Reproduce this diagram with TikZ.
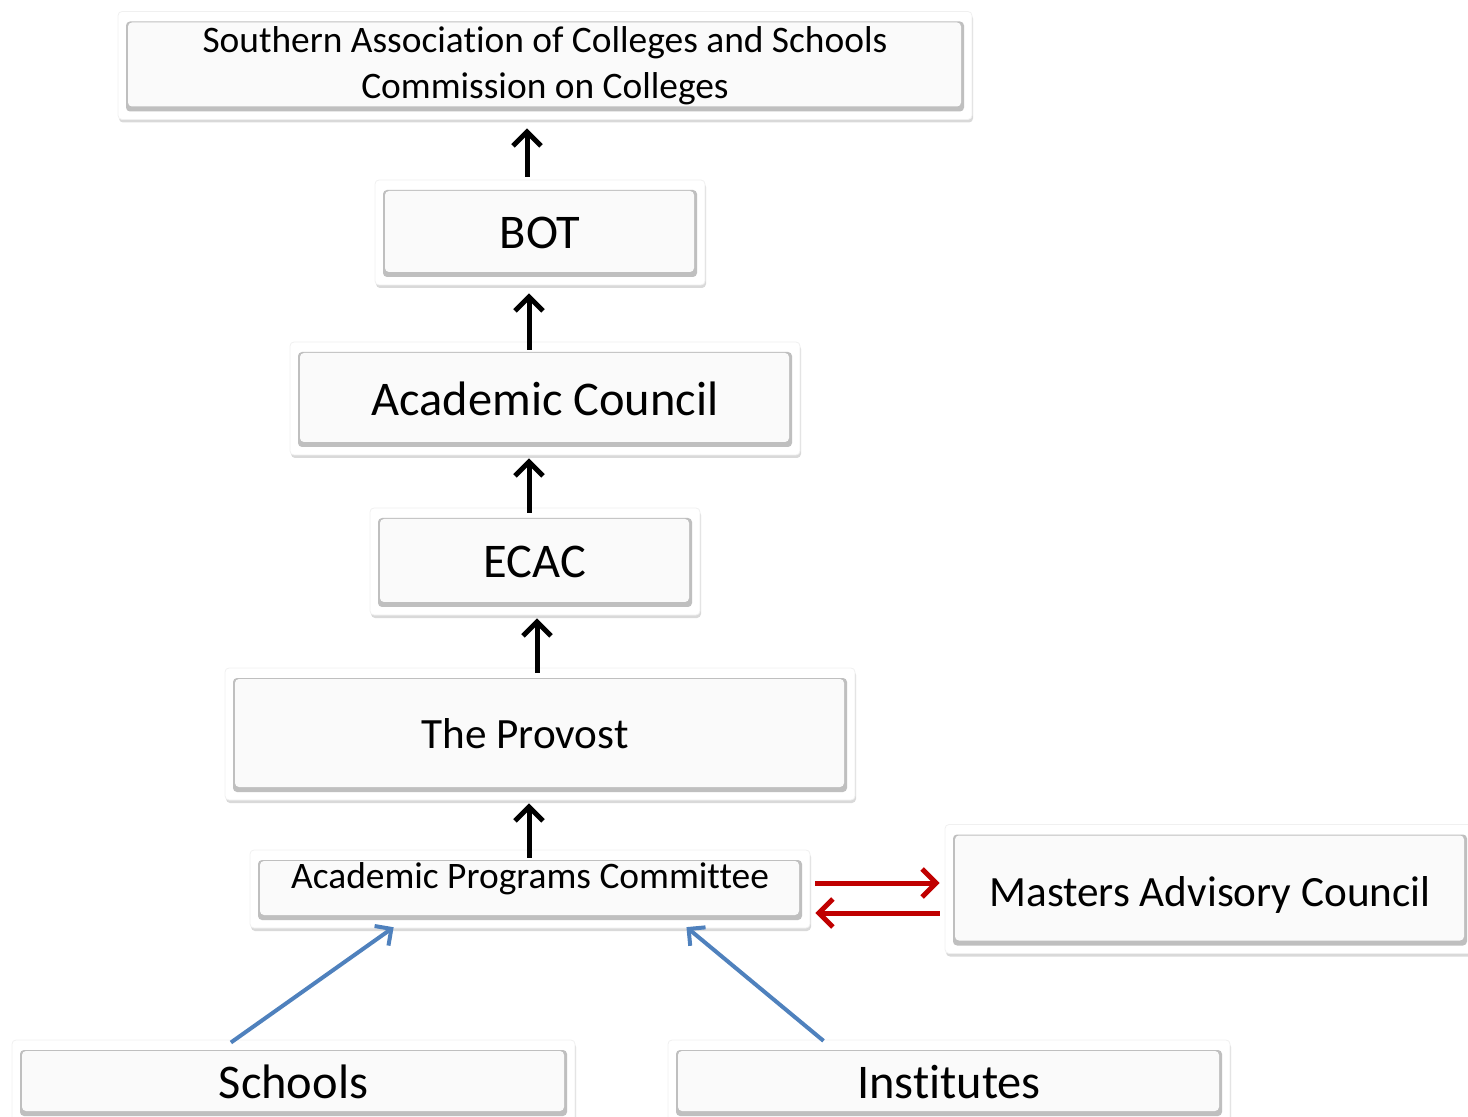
\documentclass[tikz,border=0pt]{standalone}
\usepackage{fontspec}
\setmainfont{Carlito}[Ligatures=NoCommon]
\usepackage{tikz}
\usetikzlibrary{arrows.meta}
\usetikzlibrary{shadows}

\definecolor{arrowred}{RGB}{192,0,0}
\definecolor{arrowblue}{RGB}{79,129,189}

\begin{document}
\begin{tikzpicture}[x=0.5pt,y=-0.5pt]
    \tikzstyle{box}=[rectangle,rounded corners=2pt,draw=gray!12,fill=white,inner sep=0pt,
        drop shadow={shadow xshift=0.5pt,shadow yshift=-1.5pt,opacity=0.3,fill=gray},
        path picture={
            \fill[gray!50] ([shift={(4pt,4pt)}]path picture bounding box.south west)
                rectangle ([shift={(-4pt,-5pt)}]path picture bounding box.north east);
            \fill[gray!4] ([shift={(5pt,6.5pt)}]path picture bounding box.south west)
                rectangle ([shift={(-5.5pt,-5.5pt)}]path picture bounding box.north east);
        }]
    \tikzstyle{small}=[font=\fontsize{18.7}{23}\selectfont,align=center]
    \tikzstyle{large}=[font=\fontsize{24.2}{29}\selectfont]
    \tikzstyle{medium}=[font=\fontsize{21.6}{26}\selectfont]
    \tikzstyle{up}=[draw=black,line width=2.5pt,-{Straight Barb[length=7pt,width=14pt]}]
    \tikzstyle{red}=[draw=arrowred,line width=2.5pt,-{Straight Barb[length=7pt,width=14pt]}]
    \tikzstyle{blue}=[draw=arrowblue,line width=2pt,-{Straight Barb[length=6pt,width=12pt]}]

    \useasboundingbox (0,0) rectangle (1468,1117);

    \node[box,small,minimum width=427pt,minimum height=54pt] (sacs) at (545,65.5)
        {Southern Association of Colleges and Schools\\Commission on Colleges};
    \node[box,large,minimum width=165pt,minimum height=52.5pt] (bot) at (540,232.5) {BOT};
    \node[box,large,minimum width=255pt,minimum height=56.5pt] (council) at (545,398.5) {Academic Council};
    \node[box,large,minimum width=165pt,minimum height=53.5pt] (ecac) at (535,561.5) {ECAC};
    \node[box,medium,minimum width=315pt,minimum height=66pt] (provost) at (540,734) {The Provost\kern15pt};
    \node[box,small,text depth=13pt,minimum width=280pt,minimum height=39pt] (apc) at (530,889) {Academic Programs Committee};
    \node[box,medium,text height=21pt,minimum width=265pt,minimum height=64.5pt] (masters) at (1210,889) {Masters Advisory Council};
    \node[box,large,minimum width=281.5pt,minimum height=42pt] (schools) at (293.5,1082) {Schools};
    \node[box,large,minimum width=281pt,minimum height=42pt] (institutes) at (949,1082) {Institutes};

    \path[up,shorten <=1.5pt,shorten >=4.25pt] ([xshift=-6.5pt]bot.north) -- ([xshift=-9pt]sacs.south);
    \path[up,shorten <=-4pt,shorten >=4pt] ([xshift=-8pt]council.north) -- ([xshift=-5.5pt]bot.south);
    \path[up,shorten <=-2.5pt,shorten >=1.5pt] ([xshift=-3pt]ecac.north) -- ([xshift=-8pt]council.south);
    \path[up,shorten <=-2.5pt,shorten >=1.5pt] ([xshift=-1.5pt]provost.north) -- ([xshift=1pt]ecac.south);
    \path[up,shorten <=-4pt,shorten >=1.5pt] ([xshift=-0.5pt]apc.north) -- ([xshift=-5.5pt]provost.south);

    \path[red,shorten <=2.5pt,shorten >=2.5pt] ([yshift=3pt]apc.east) -- ([yshift=3pt]masters.west);
    \path[red,shorten <=2.5pt,shorten >=2.5pt] ([yshift=-12pt]masters.west) -- ([yshift=-12pt]apc.east);

    \path[blue,shorten <=-2.5pt,shorten >=-1pt] ([xshift=-29.25pt]schools.north) -- ([xshift=-69pt]apc.south);
    \path[blue,shorten <=-1pt,shorten >=-1pt] ([xshift=-63.5pt]institutes.north) -- ([xshift=79pt]apc.south);
\end{tikzpicture}
\end{document}
